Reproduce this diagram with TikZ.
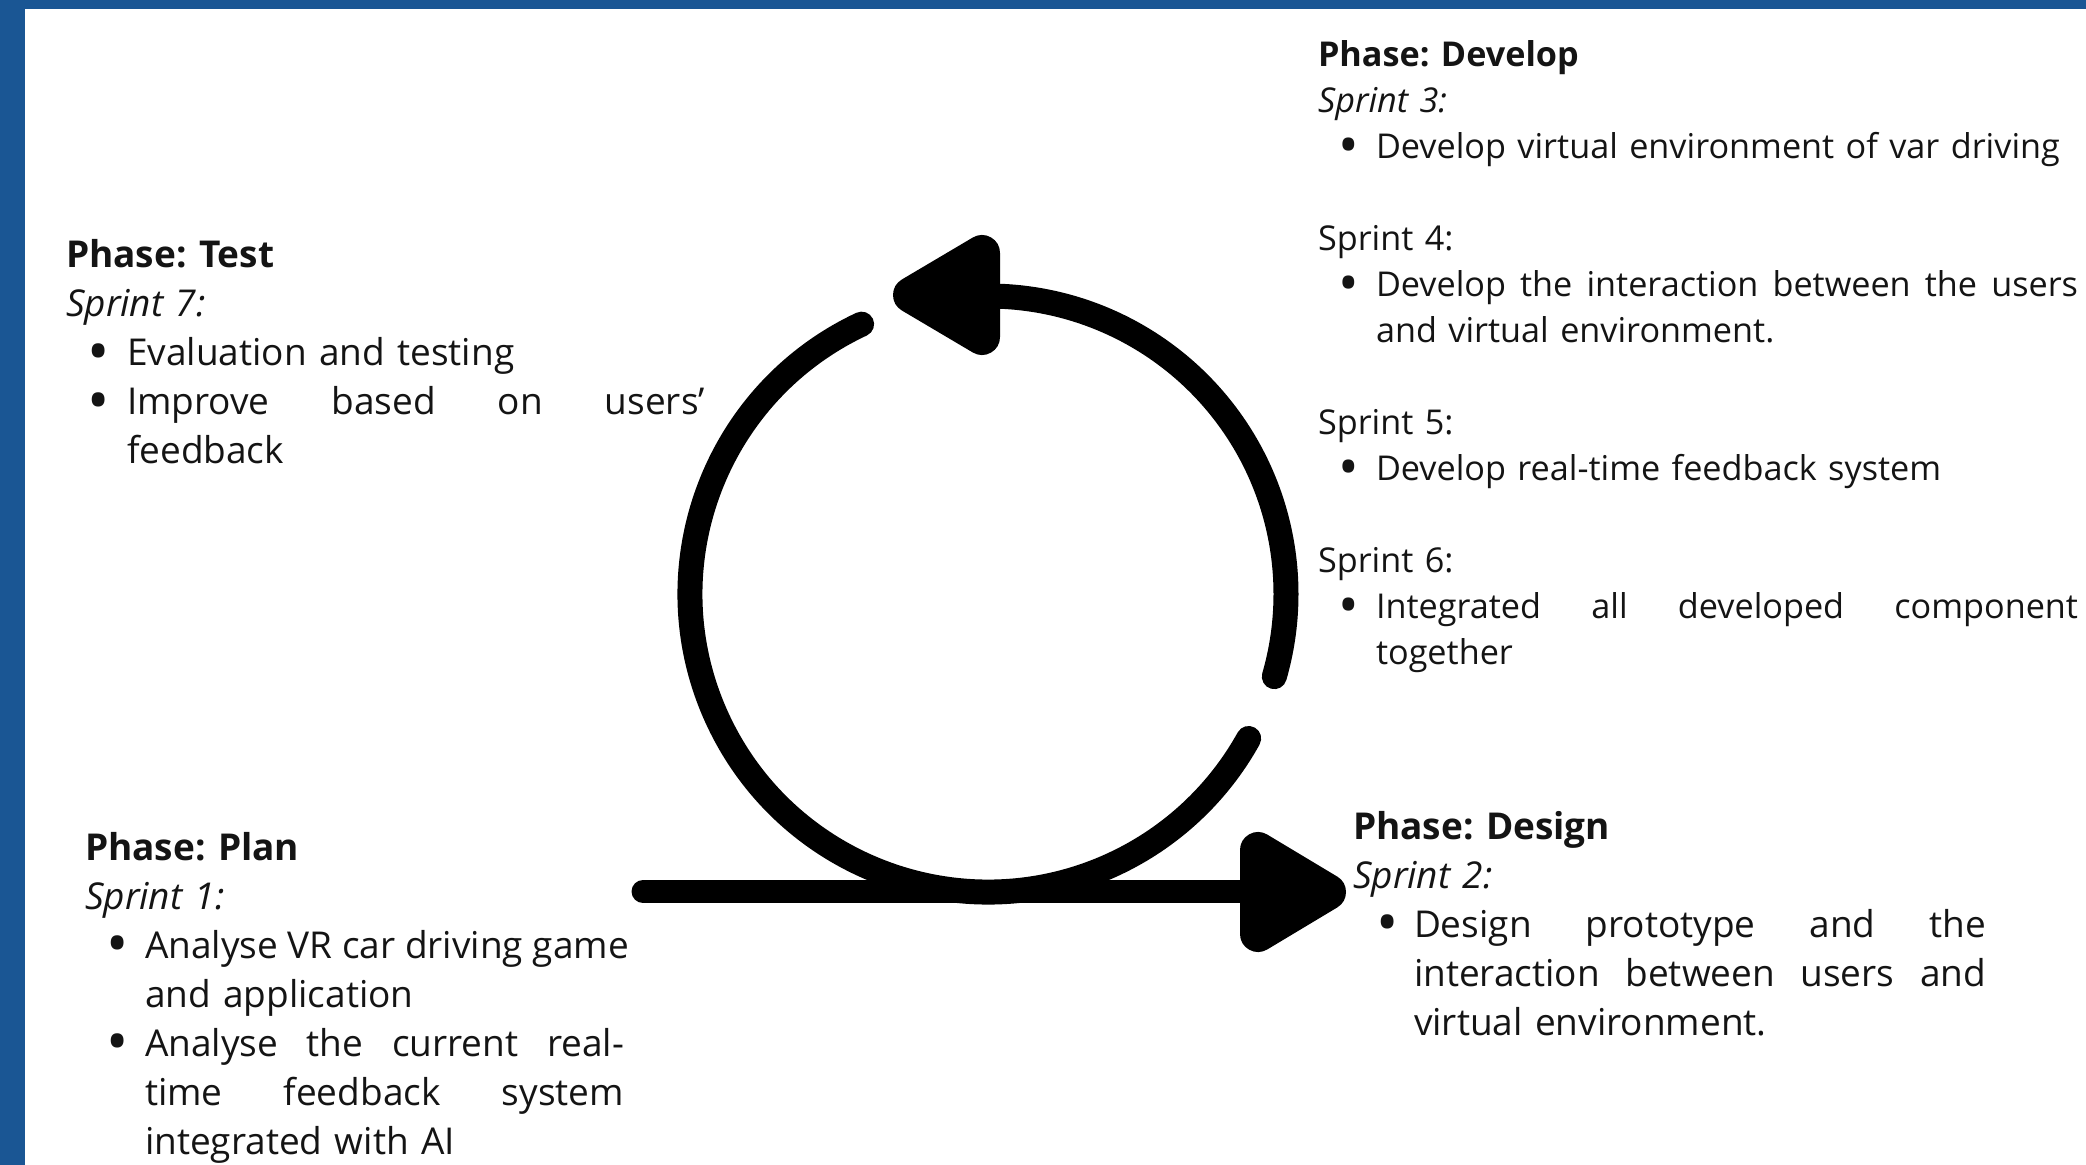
\documentclass[tikz,border=0pt]{standalone}
\usepackage{fontspec}
\setmainfont{Open Sans}
\definecolor{ink}{HTML}{141414}
\definecolor{frame}{HTML}{1A5694}

% enlarged bullet, kept at mid x-height
\newcommand{\bigdot}{\raisebox{-0.17em}{\scalebox{1.6}{\textbullet}}}
% bullet in a hanging box: #1 = text indent, #2 = bullet centre
\newcommand{\itemmark}[2]{\makebox[#1][l]{\hspace*{#2}\makebox[0pt][c]{\bigdot}}}
% word gap of a justified line: stretches to fill, may shrink a little
\newcommand{\gap}{\hspace{0.26em plus 1fill minus 0.12em}}
% fully justified line of a given width
\newcommand{\jline}[2]{\makebox[#1][l]{#2}}

\tikzset{
  blk/.style={anchor=base west, inner sep=0pt, outer sep=0pt, text=ink},
  bigtext/.style={font=\fontsize{18.5pt}{24.5pt}\selectfont\frenchspacing},
  smalltext/.style={font=\fontsize{17.1pt}{23pt}\selectfont\frenchspacing},
  ring/.style={draw=black, line width=12.5pt, line cap=round},
  shaft/.style={draw=black, line width=11.5pt, line cap=round},
  head/.style={fill=black, draw=black, line width=18pt, line join=round},
}

\begin{document}
\begin{tikzpicture}[x=0.5pt, y=-0.5pt]
  \useasboundingbox (0,0) rectangle (2086,1165);

  % blue frame and white sheet
  \fill[frame] (0,0) rectangle (2086,1165);
  \fill[white] (25,9) rectangle (2086,1165);

  % cycle
  \coordinate (c) at (988,594);
  \draw[ring] (c) ++(16.1:298) coordinate (rA) arc[start angle=16.1, end angle=-87.7, radius=298] coordinate (topback);
  \draw[ring] (c) ++(-115.1:298) coordinate (rB) arc[start angle=-115.1, end angle=-331, radius=298] coordinate (rC);
  \filldraw[head] (982,253) -- (982,337) -- (911,295) -- cycle;

  % straight arrow along the bottom
  \coordinate (start) at (643,891.5);
  \coordinate (headbase) at (1258,891.5);
  \draw[shaft] (start) -- (headbase);
  \filldraw[head] (1258,850) -- (1258,934) -- (1328,892) -- cycle;

  % Test
  \node[blk, bigtext, text width=330pt] (test) at (66,268) {%
    \textbf{Phase: Test}\\
    \textit{Sprint 7:}\\
    \itemmark{30.5pt}{16.5pt}Evaluation and testing\\
    \itemmark{30.5pt}{16.5pt}\jline{289pt}{Improve\gap based\gap on\gap users’}\\
    \hspace*{30.5pt}feedback};

  % Plan
  \node[blk, bigtext, text width=280pt] (plan) at (85,860) {%
    \textbf{Phase: Plan}\\
    \textit{Sprint 1:}\\
    \itemmark{30pt}{16.5pt}\jline{239.5pt}{Analyse\gap VR\gap car\gap driving\gap game}\\
    \hspace*{30pt}and application\\
    \itemmark{30pt}{16.5pt}\jline{239.5pt}{Analyse\gap the\gap current\gap real-}\\
    \hspace*{30pt}\jline{239.5pt}{time\gap feedback\gap system}\\
    \hspace*{30pt}integrated with AI};

  % Develop
  \node[blk, smalltext, text width=390pt] (develop) at (1318,67) {%
    \textbf{Phase: Develop}\\
    \textit{Sprint 3:}\\
    \itemmark{29pt}{15.5pt}Develop virtual environment of var driving\\
    \mbox{}\\
    Sprint 4:\\
    \itemmark{29pt}{15.5pt}\jline{351pt}{Develop\gap the\gap interaction\gap between\gap the\gap users}\\
    \hspace*{29pt}and virtual environment.\\
    \mbox{}\\
    Sprint 5:\\
    \itemmark{29pt}{15.5pt}Develop real-time feedback system\\
    \mbox{}\\
    Sprint 6:\\
    \itemmark{29pt}{15.5pt}\jline{351pt}{Integrated\gap all\gap developed\gap component}\\
    \hspace*{29pt}together};

  % Design
  \node[blk, bigtext, text width=330pt] (design) at (1353,839) {%
    \textbf{Phase: Design}\\
    \textit{Sprint 2:}\\
    \itemmark{30.5pt}{17.5pt}\jline{286pt}{Design\gap prototype\gap and\gap the}\\
    \hspace*{30.5pt}\jline{286pt}{interaction\gap between\gap users\gap and}\\
    \hspace*{30.5pt}virtual environment.};
\end{tikzpicture}
\end{document}
